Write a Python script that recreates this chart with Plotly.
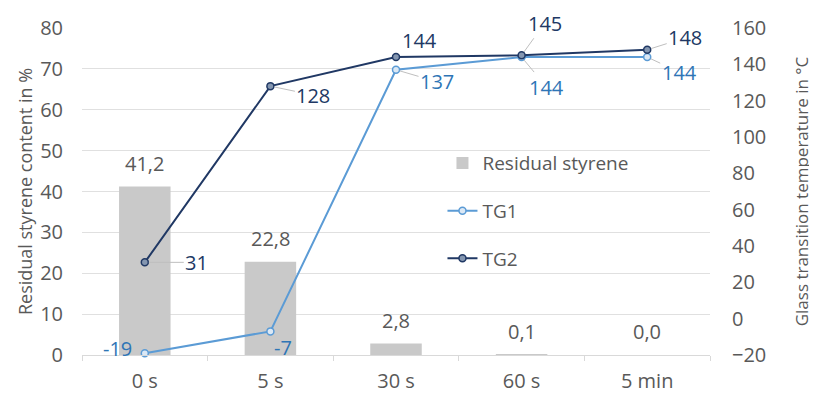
import plotly.graph_objects as go

categories = ["0 s", "5 s", "30 s", "60 s", "5 min"]
residual_styrene = [41.2, 22.8, 2.8, 0.1, 0.0]
tg1 = [-19, -7, 137, 144, 144]
tg2 = [31, 128, 144, 145, 148]

# label offsets (pixels) and leader-line flags
tg1_off = [(-27, -5), (13, 16), (41, 12), (25, 30), (32, 15)]
tg1_lead = [False, False, True, True, True]
tg2_off = [(52, 0), (43, 9), (23, -17), (23, -32), (38, -12)]
tg2_lead = [True, True, False, True, True]

GRAY_TXT = "#595959"
C_TG1 = "#5b9bd5"
C_TG1_TXT = "#2e75b6"
C_TG2 = "#203864"
FONT = "Open Sans"

fig = go.Figure()
fig.add_trace(go.Bar(
    x=categories, y=residual_styrene, name="Residual styrene",
    marker=dict(color="#c9c9c9", line=dict(width=0)),
    width=0.41, legendgroup="a",
))
fig.add_trace(go.Scatter(
    x=categories, y=tg1, name="TG1", yaxis="y2", mode="lines+markers",
    line=dict(color=C_TG1, width=2),
    marker=dict(size=7, color="#dbe8f5", line=dict(color=C_TG1, width=1.5)),
    legendgroup="b", cliponaxis=False,
))
fig.add_trace(go.Scatter(
    x=categories, y=tg2, name="TG2", yaxis="y2", mode="lines+markers",
    line=dict(color=C_TG2, width=2),
    marker=dict(size=7, color="#8496b0", line=dict(color=C_TG2, width=1.5)),
    legendgroup="c", cliponaxis=False,
))

annotations = []
for c, v in zip(categories, residual_styrene):
    annotations.append(dict(
        x=c, y=v, xref="x", yref="y", text=f"{v:.1f}".replace(".", ","),
        showarrow=False, yanchor="bottom", yshift=8,
        font=dict(color=GRAY_TXT, size=20, family=FONT),
    ))
for vals, offs, leads, col in [(tg1, tg1_off, tg1_lead, C_TG1_TXT), (tg2, tg2_off, tg2_lead, C_TG2)]:
    for c, v, (dx, dy), lead in zip(categories, vals, offs, leads):
        annotations.append(dict(
            x=c, y=v, xref="x", yref="y2", text=str(v),
            showarrow=True, arrowhead=0, arrowwidth=1,
            arrowcolor="#bfbfbf" if lead else "rgba(0,0,0,0)",
            ax=dx, ay=dy, standoff=4,
            font=dict(color=col, size=20, family=FONT),
        ))

fig.update_layout(
    width=817, height=395,
    # page body adds an 8px offset; margins compensate so the plot sits at 82..710 x 28..355
    margin=dict(l=74, r=115, t=20, b=48, autoexpand=False),
    paper_bgcolor="white", plot_bgcolor="white",
    separators=",.",
    font=dict(family=FONT, color=GRAY_TXT, size=18),
    bargap=0.59,
    showlegend=True,
    legend=dict(x=0.574, y=0.645, xanchor="left", yanchor="top",
                font=dict(size=19, color=GRAY_TXT, family=FONT),
                tracegroupgap=20, bgcolor="rgba(0,0,0,0)"),
    xaxis=dict(type="category", showgrid=False, showline=True, automargin=False,
               linecolor="#d9d9d9", linewidth=1, ticks="outside",
               tickson="boundaries", ticklen=5, tickcolor="#d9d9d9",
               ticklabelstandoff=8,
               tickfont=dict(size=20, color=GRAY_TXT)),
    yaxis=dict(range=[0, 80], dtick=10, showgrid=True, gridcolor="#e0e0e0",
               zeroline=False, automargin=False, ticklabelstandoff=18,
               tickfont=dict(size=20, color=GRAY_TXT),
               title=dict(text="Residual styrene content in %",
                          font=dict(size=18, color=GRAY_TXT), standoff=2)),
    yaxis2=dict(range=[-20, 160], dtick=20, overlaying="y", side="right",
                showgrid=False, zeroline=False, automargin=False,
                ticklabelstandoff=21,
                tickfont=dict(size=20, color=GRAY_TXT),
                title=dict(text="Glass transition temperature in °C",
                           font=dict(size=17, color=GRAY_TXT), standoff=30)),
    annotations=annotations,
)

fig.write_html("out.html")
